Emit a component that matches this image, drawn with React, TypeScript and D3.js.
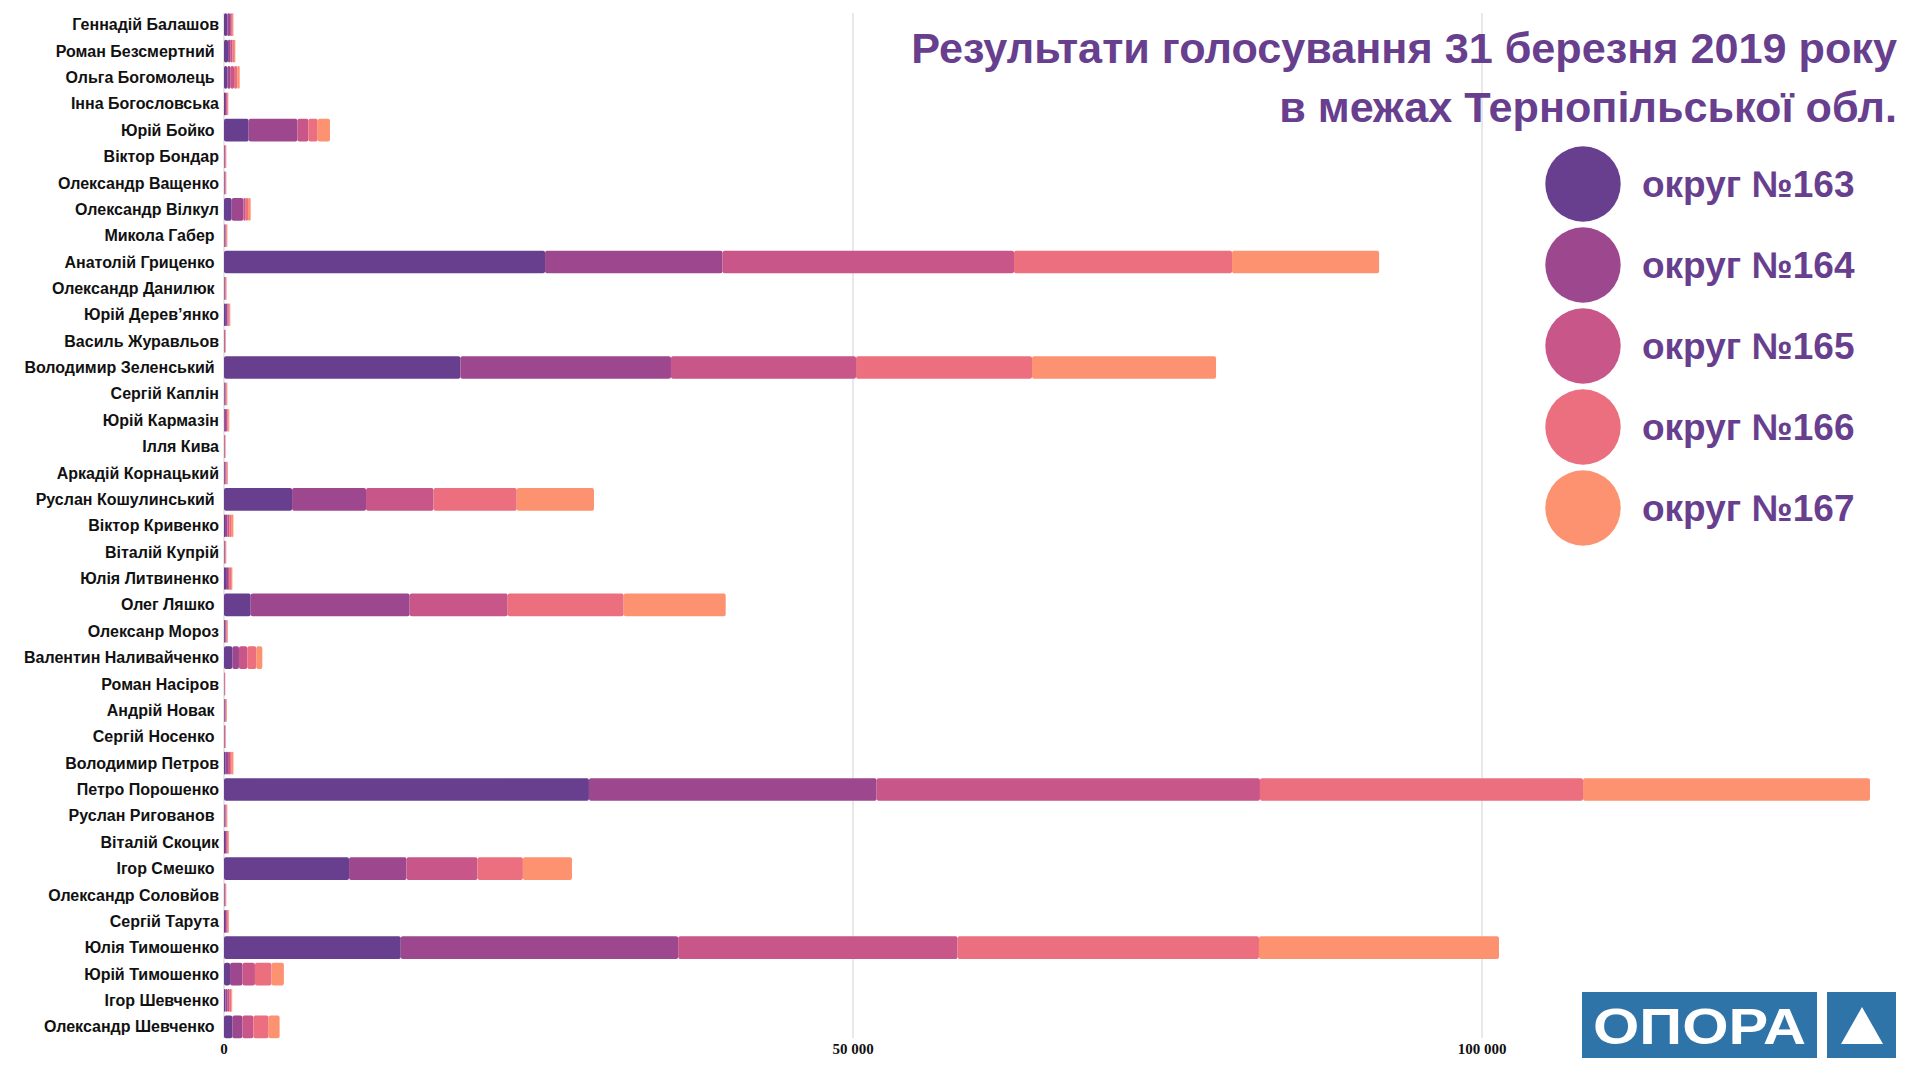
import { scaleBand, scaleLinear, stack } from "d3";

const candidates = [
  "Геннадій Балашов",
  "Роман Безсмертний ",
  "Ольга Богомолець ",
  "Інна Богословська",
  "Юрій Бойко ",
  "Віктор Бондар",
  "Олександр Ващенко",
  "Олександр Вілкул",
  "Микола Габер ",
  "Анатолій Гриценко ",
  "Олександр Данилюк ",
  "Юрій Дерев’янко",
  "Василь Журавльов",
  "Володимир Зеленський ",
  "Сергій Каплін",
  "Юрій Кармазін",
  "Ілля Кива",
  "Аркадій Корнацький",
  "Руслан Кошулинський ",
  "Віктор Кривенко",
  "Віталій Купрій",
  "Юлія Литвиненко",
  "Олег Ляшко ",
  "Олексанр Мороз",
  "Валентин Наливайченко",
  "Роман Насіров",
  "Андрій Новак ",
  "Сергій Носенко ",
  "Володимир Петров",
  "Петро Порошенко",
  "Руслан Риговaнов ",
  "Віталій Скоцик",
  "Ігор Смешко ",
  "Олександр Соловйов",
  "Сергій Тарута",
  "Юлія Тимошенко",
  "Юрій Тимошенко",
  "Ігор Шевченко",
  "Олександр Шевченко ",
];

// votes per district, same order as candidates
const d163 = [265, 320, 265, 80, 1960, 30, 35, 610, 50, 25520, 40, 150, 30, 18790, 50, 60, 25, 60, 5410, 80, 35, 160, 2120, 70, 660, 20, 50, 30, 135, 29010, 50, 80, 9940, 35, 80, 14050, 480, 120, 660];
const d164 = [215, 210, 265, 80, 3870, 50, 50, 930, 60, 14110, 50, 130, 40, 16740, 60, 100, 30, 70, 5880, 185, 40, 160, 12640, 70, 530, 25, 50, 35, 185, 22870, 60, 90, 4570, 40, 90, 22050, 990, 130, 800];
const d165 = [135, 130, 265, 70, 875, 40, 40, 185, 55, 23170, 45, 90, 35, 14710, 55, 100, 30, 70, 5370, 160, 40, 135, 7790, 65, 660, 25, 50, 35, 160, 30470, 55, 85, 5640, 40, 85, 22210, 990, 200, 875];
const d166 = [80, 130, 265, 70, 740, 35, 35, 185, 55, 17330, 40, 80, 30, 13990, 55, 90, 25, 65, 6610, 135, 35, 105, 9220, 60, 715, 20, 45, 30, 135, 25680, 55, 80, 3610, 35, 80, 23960, 1310, 140, 1210];
const d167 = [55, 110, 185, 45, 980, 30, 30, 210, 45, 11690, 35, 50, 25, 14630, 45, 70, 25, 55, 6140, 185, 35, 105, 8110, 55, 480, 15, 45, 30, 135, 22810, 45, 65, 3900, 35, 65, 19080, 990, 60, 875];

const districts = ["округ №163", "округ №164", "округ №165", "округ №166", "округ №167"];
const colors = ["#673f8e", "#9d478f", "#c95689", "#eb6f7e", "#fc9270"];
const xTicks = [0, 50000, 100000];
const tickLabels = ["0", "50 000", "100 000"];

const titleLines = ["Результати голосування 31 березня 2019 року", "в межах Тернопільської обл."];

const W = 1920;
const H = 1080;
const purple = "#673f8e";

export default function App() {
  const series = [d163, d164, d165, d166, d167];
  const rows = candidates.map((name, i) => {
    const row: Record<string, any> = { name };
    districts.forEach((d, k) => (row[d] = series[k][i]));
    return row;
  });
  const stacked = stack<any>().keys(districts)(rows);

  const x = scaleLinear().domain([0, 100000]).range([224, 1482]);
  const y = scaleBand()
    .domain(candidates)
    .range([11.5, 1040])
    .paddingInner(0.14)
    .paddingOuter(0.07);
  const legendY = scaleLinear().domain([0, 4]).range([184, 508]);

  return (
    <svg
      width={W}
      height={H}
      style={{ position: "absolute", left: 0, top: 0, background: "#fff" }}
      fontFamily="'Liberation Sans', Arial, sans-serif"
    >
      <rect width={W} height={H} fill="#fff" />

      {/* grid */}
      {xTicks.map((t) => (
        <line
          key={`g-${t}`}
          x1={x(t)}
          x2={x(t)}
          y1={13}
          y2={1038}
          stroke="#d9d9d9"
          strokeWidth={1.2}
        />
      ))}

      {/* bars */}
      {stacked.map((s, k) => (
        <g key={s.key} fill={colors[k]}>
          {s.map((d, i) => {
            const w = Math.max(0, x(d[1]) - x(d[0]));
            return (
              <rect
                key={i}
                x={x(d[0])}
                y={y(candidates[i])}
                width={w}
                height={y.bandwidth()}
                rx={Math.min(2, w / 2)}
              />
            );
          })}
        </g>
      ))}

      {/* candidate labels */}
      {candidates.map((c) => (
        <text
          key={c}
          x={219}
          y={(y(c) ?? 0) + y.bandwidth() / 2 + 5.6}
          textAnchor="end"
          fontSize={16}
          fontWeight="bold"
          fill="#111"
          style={{ whiteSpace: "pre" }}
        >
          {c}
        </text>
      ))}

      {/* x axis labels */}
      {xTicks.map((t, i) => (
        <text
          key={`t-${t}`}
          x={x(t)}
          y={1054}
          textAnchor="middle"
          fontSize={15}
          fontWeight="bold"
          fontFamily="'Liberation Serif', serif"
          fill="#111"
        >
          {tickLabels[i]}
        </text>
      ))}

      {/* title */}
      {titleLines.map((l, i) => (
        <text
          key={l}
          x={1897}
          y={63 + i * 59}
          textAnchor="end"
          fontSize={43.2}
          fontWeight="bold"
          fill={purple}
        >
          {l}
        </text>
      ))}

      {/* legend */}
      {districts.map((d, i) => (
        <g key={d}>
          <circle cx={1583} cy={legendY(i)} r={37.7} fill={colors[i]} />
          <text
            x={1642}
            y={legendY(i) + 13}
            fontSize={37}
            fontWeight="bold"
            fill={purple}
          >
            {d}
          </text>
        </g>
      ))}

      {/* logo */}
      <g>
        <rect x={1582} y={992} width={235} height={66} fill="#2f74a9" />
        <rect x={1827} y={992} width={69} height={66} fill="#2f74a9" />
        <polygon points="1862,1007 1841,1044 1883,1044" fill="#fff" />
        <text
          x={1593}
          y={1044}
          fontSize={50}
          fontWeight="900"
          fill="#fff"
          textLength={213}
          lengthAdjust="spacingAndGlyphs"
        >
          ОПОРА
        </text>
      </g>
    </svg>
  );
}
